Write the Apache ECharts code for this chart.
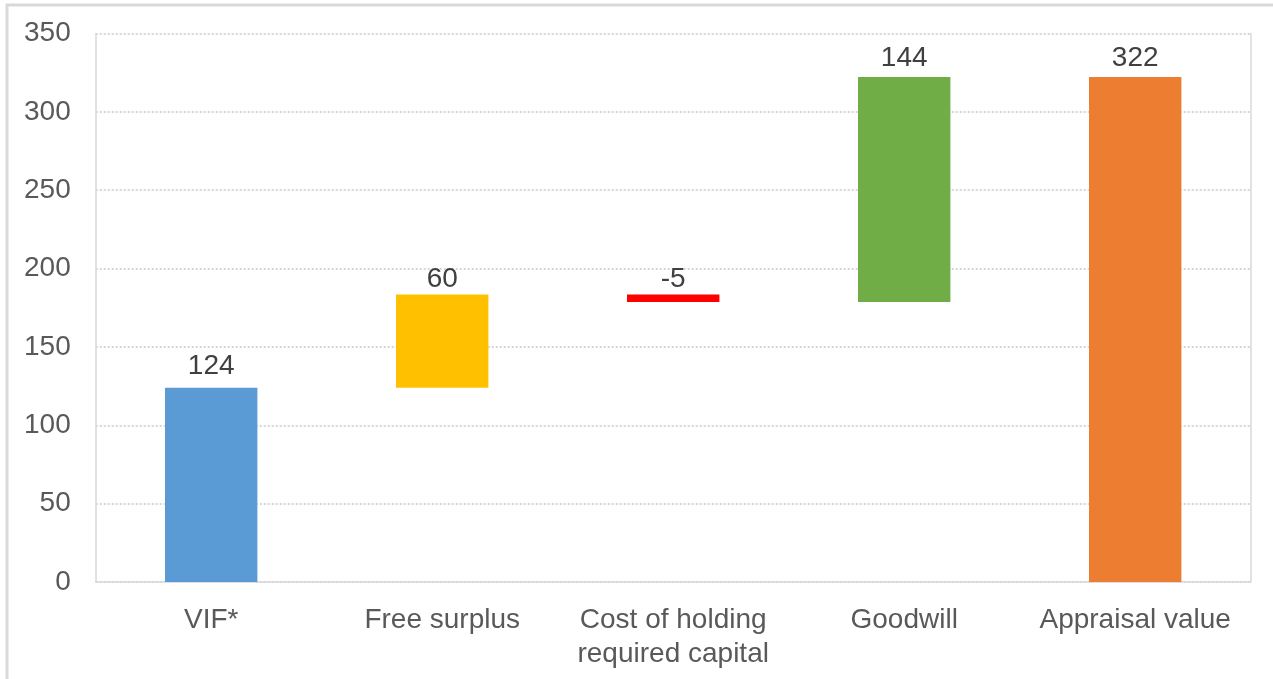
<!DOCTYPE html>
<html>
<head>
<meta charset="utf-8">
<script src="https://cdn.jsdelivr.net/npm/echarts@6/dist/echarts.min.js"></script>
<style>html,body{margin:0;padding:0;background:#fff;}#c{width:1273px;height:679px;}</style>
</head>
<body>
<div id="c"></div>
<script>
const categories = ['VIF*', 'Free surplus', 'Cost of holding\nrequired capital', 'Goodwill', 'Appraisal value'];
const values = [123.9, 59.6, -4.9, 143.7, 322.3];
const isTotal = [false, false, false, false, true];
const colors = ['#5B9BD5', '#FFC000', '#FF0000', '#70AD47', '#ED7D31'];
const labelGap = [8, 1, 1, 5, 5];
const yTicks = [0, 50, 100, 150, 200, 250, 300, 350];

// waterfall bases from the running sum
const bases = [];
const heights = [];
let run = 0;
values.forEach((v, i) => {
  if (isTotal[i]) { bases.push(0); heights.push(v); run = v; }
  else if (v >= 0) { bases.push(run); heights.push(v); run += v; }
  else { run += v; bases.push(run); heights.push(-v); }
});

const font = 'Liberation Sans, Arial, Helvetica, sans-serif';
const chart = echarts.init(document.getElementById('c'));
chart.setOption({
  animation: false,
  graphic: [{
    type: 'rect', shape: {x: 7, y: 5, width: 1300, height: 700},
    style: {fill: 'none', stroke: '#d9d9d9', lineWidth: 3}, silent: true
  }],
  grid: {left: 95.7, right: 22.3, top: 33.5, bottom: 97, containLabel: false},
  xAxis: {
    type: 'category', data: categories,
    axisLine: {show: true, lineStyle: {color: '#d9d9d9', width: 1.5}},
    axisTick: {show: false},
    axisLabel: {color: '#595959', fontSize: 28, fontFamily: font, margin: 21, lineHeight: 34, interval: 0}
  },
  yAxis: [{
    type: 'value', min: 0, max: 350, interval: 50,
    axisLine: {show: true, lineStyle: {color: '#d9d9d9', width: 1.5}},
    axisTick: {show: false},
    splitLine: {show: true, lineStyle: {color: '#c8c8c8', type: [2, 2], width: 1.5}},
    axisLabel: {color: '#595959', fontSize: 28, fontFamily: font, margin: 25,
      formatter: v => yTicks.includes(v) ? String(v) : ''}
  }, {
    type: 'value', min: 0, max: 350, interval: 50, position: 'right',
    axisLine: {show: true, lineStyle: {color: '#d9d9d9', width: 1.5}},
    axisTick: {show: false}, axisLabel: {show: false}, splitLine: {show: false}
  }],
  series: [{
    type: 'bar', stack: 'w', data: bases, barWidth: '40%',
    itemStyle: {color: 'transparent'}, silent: true
  }, {
    type: 'bar', stack: 'w', barWidth: '40%',
    data: heights.map((h, i) => ({value: h, itemStyle: {color: colors[i]}, label: {distance: labelGap[i]}})),
    label: {
      show: true, position: 'top', color: '#404040', fontSize: 28, fontFamily: font,
      formatter: p => String(Math.round(values[p.dataIndex]))
    }
  }]
});
</script>
</body>
</html>
